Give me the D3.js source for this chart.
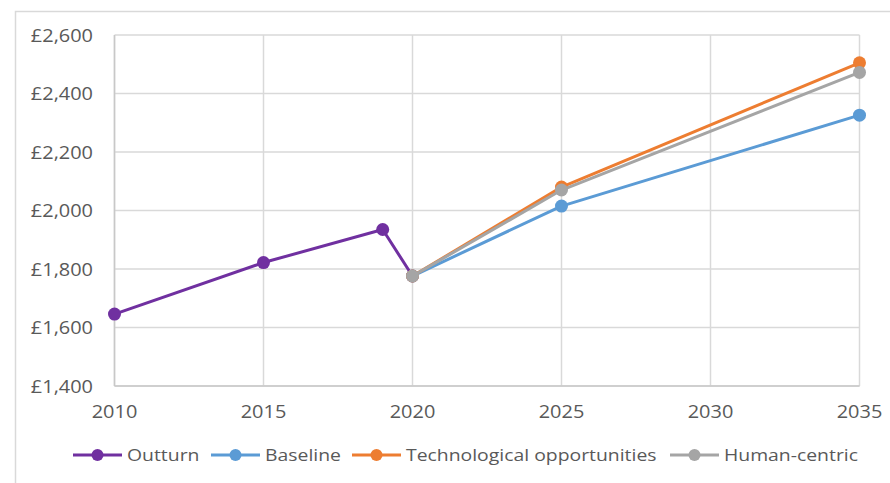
<!DOCTYPE html>
<meta charset="utf-8">
<script src="https://d3js.org/d3.v7.min.js"></script>
<style>
  body { margin: 0; background: #fff; }
  text { font-family: "Open Sans", Lato, sans-serif; fill: #595959; }
</style>
<div id="chart"></div>
<script>
// data
var outturnYears = [2010, 2015, 2019, 2020];
var outturnValues = [1646, 1822, 1935, 1776];
var scenarioYears = [2020, 2025, 2035];
var baselineValues = [1776, 2015, 2326];
var techValues = [1776, 2080, 2505];
var humanValues = [1776, 2070, 2472];
var xTicks = [2010, 2015, 2020, 2025, 2030, 2035];
var yTicks = [1400, 1600, 1800, 2000, 2200, 2400, 2600];

var series = [
  {name: "Outturn", years: outturnYears, values: outturnValues, color: "#7030A0"},
  {name: "Baseline", years: scenarioYears, values: baselineValues, color: "#5B9BD5"},
  {name: "Technological opportunities", years: scenarioYears, values: techValues, color: "#ED7D31"},
  {name: "Human-centric", years: scenarioYears, values: humanValues, color: "#A5A5A5"}
];

var W = 890, H = 483;
var stretch = 1.14; // the source picture is a little wider than tall
var svg = d3.select("#chart").append("svg")
  .attr("width", W).attr("height", H);

function at(px, py) {
  return "translate(" + px + "," + py + ") scale(" + stretch + ",1)";
}

// outer chart border (only top and left visible in the crop)
svg.append("path")
  .attr("d", "M15.5," + H + "V11.5H" + W)
  .attr("fill", "none").attr("stroke", "#D9D9D9").attr("stroke-width", 1.5);

var x = d3.scaleLinear().domain([2010, 2035]).range([114.5, 859.5]);
var y = d3.scaleLinear().domain([1400, 2600]).range([386, 35]);

// gridlines
svg.append("g").selectAll("line").data(yTicks).join("line")
  .attr("x1", x(2010)).attr("x2", x(2035))
  .attr("y1", d => y(d)).attr("y2", d => y(d))
  .attr("stroke", "#D9D9D9").attr("stroke-width", 1.5);
svg.append("g").selectAll("line").data(xTicks).join("line")
  .attr("x1", d => x(d)).attr("x2", d => x(d))
  .attr("y1", y(1400)).attr("y2", y(2600))
  .attr("stroke", "#D9D9D9").attr("stroke-width", 1.5);

// axis lines
svg.append("line").attr("x1", x(2010)).attr("x2", x(2010))
  .attr("y1", y(1400)).attr("y2", y(2600))
  .attr("stroke", "#C8C8C8").attr("stroke-width", 1.5);
svg.append("line").attr("x1", x(2010)).attr("x2", x(2035))
  .attr("y1", y(1400)).attr("y2", y(1400))
  .attr("stroke", "#C8C8C8").attr("stroke-width", 1.5);

// tick labels
var fmt = d3.format(",");
svg.append("g").selectAll("text").data(yTicks).join("text")
  .attr("transform", d => at(93, y(d) + 6.5))
  .attr("text-anchor", "end").style("font-size", "17.5px")
  .text(d => "£" + fmt(d));
svg.append("g").selectAll("text").data(xTicks).join("text")
  .attr("transform", d => at(x(d), 418))
  .attr("text-anchor", "middle").style("font-size", "17.5px")
  .text(d => d);

// lines + markers
var line = d3.line().x(d => x(d[0])).y(d => y(d[1]));
series.forEach(function(s) {
  var pts = s.years.map((yr, i) => [yr, s.values[i]]);
  svg.append("path").datum(pts)
    .attr("d", line).attr("fill", "none")
    .attr("stroke", s.color).attr("stroke-width", 3)
    .attr("stroke-linejoin", "round");
  svg.append("g").selectAll("circle").data(pts).join("circle")
    .attr("cx", d => x(d[0])).attr("cy", d => y(d[1])).attr("r", 6.5)
    .attr("fill", s.color);
});

// legend
var legendX = [73, 211, 352, 670];
series.forEach(function(s, i) {
  var g = svg.append("g").attr("transform", "translate(" + legendX[i] + ",455)");
  g.append("line").attr("x1", 0).attr("x2", 49)
    .attr("stroke", s.color).attr("stroke-width", 3);
  g.append("circle").attr("cx", 24.5).attr("r", 6).attr("fill", s.color);
  g.append("text").attr("transform", at(54, 6.2))
    .style("font-size", "17px").text(s.name);
});
</script>
